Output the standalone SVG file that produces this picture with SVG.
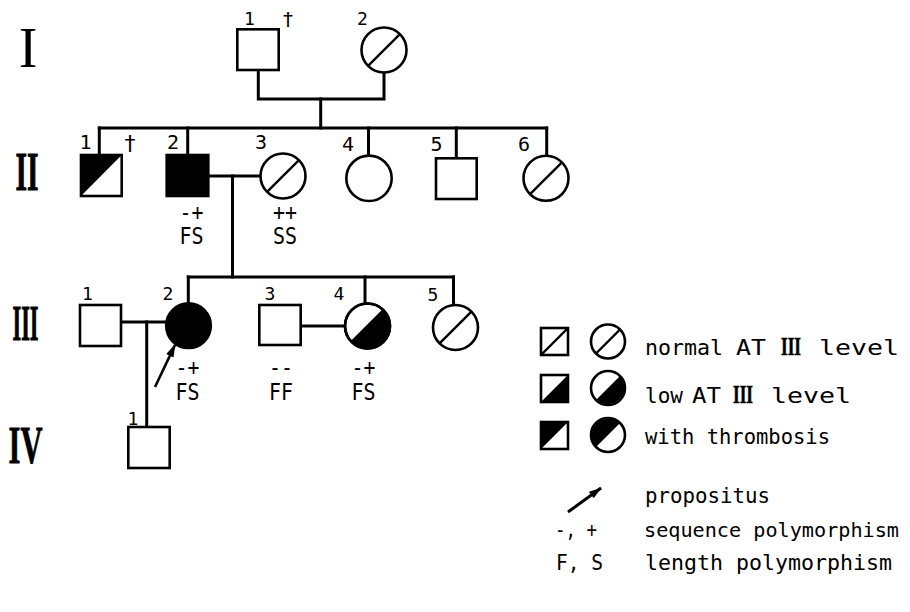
<svg xmlns="http://www.w3.org/2000/svg" width="910" height="612" viewBox="0 0 910 612">
<defs>
<style>
.ln{stroke:#000;stroke-width:3;fill:none;stroke-linecap:square}
.nd{stroke:#000;stroke-width:2.6;fill:#fff}
.dg{stroke:#000;stroke-width:2.4}
.blk{fill:#000;stroke:none}
.lab{font-family:"DejaVu Sans Mono","Liberation Mono",monospace;font-size:18px;text-anchor:middle;fill:#000}
.lab2{font-family:"DejaVu Sans Mono","Liberation Mono",monospace;font-size:20px;text-anchor:middle;fill:#000}
.dag{font-family:"DejaVu Sans","Liberation Sans",sans-serif;text-anchor:middle;fill:#000}
.gt{font-family:"DejaVu Sans Mono","Liberation Mono",monospace;font-size:23px;text-anchor:middle;fill:#000}
.lg{font-family:"DejaVu Sans Mono","Liberation Mono",monospace;font-size:22px;fill:#000}
.rn{font-family:"Liberation Serif","Times New Roman",serif;fill:#000;stroke:#000;text-anchor:middle}
</style>
<marker id="ah" markerUnits="userSpaceOnUse" markerWidth="14" markerHeight="10" refX="12" refY="5" orient="auto">
<path d="M0,1 L13,5 L0,9 Z" fill="#000"/>
</marker>
</defs>

<g id="generation-labels">
<text class="rn" x="28" y="67" font-size="56" stroke-width="0">I</text>
<text class="rn" x="27" y="190" font-size="54" font-weight="bold" stroke-width="1" textLength="23" lengthAdjust="spacingAndGlyphs">II</text>
<text class="rn" x="25.5" y="340" font-size="50" font-weight="bold" stroke-width="1" textLength="26" lengthAdjust="spacingAndGlyphs">III</text>
<text class="rn" x="25.5" y="463" font-size="52" font-weight="bold" stroke-width="0.8" textLength="34" lengthAdjust="spacingAndGlyphs">IV</text>
</g>

<g id="connectors">
<polyline class="ln" points="258.3,70 258.3,99 384,99 384,72.5"/>
<line class="ln" x1="320.7" y1="99" x2="320.7" y2="128"/>
<line class="ln" x1="99.3" y1="128" x2="546.7" y2="128"/>
<line class="ln" x1="99.3" y1="128" x2="99.3" y2="155"/>
<line class="ln" x1="187.7" y1="128" x2="187.7" y2="155"/>
<line class="ln" x1="368.5" y1="128" x2="368.5" y2="155.6"/>
<line class="ln" x1="456.3" y1="128" x2="456.3" y2="158.3"/>
<line class="ln" x1="546.7" y1="128" x2="546.7" y2="155.7"/>
<line class="ln" x1="208.3" y1="176" x2="260.5" y2="176"/>
<line class="ln" x1="232.5" y1="176" x2="232.5" y2="277"/>
<line class="ln" x1="188.3" y1="277" x2="453.5" y2="277"/>
<line class="ln" x1="188.3" y1="277" x2="188.3" y2="303.4"/>
<line class="ln" x1="365" y1="277" x2="365" y2="303.6"/>
<line class="ln" x1="453.5" y1="277" x2="453.5" y2="305.1"/>
<line class="ln" x1="121" y1="322" x2="166.2" y2="322"/>
<line class="ln" x1="146.7" y1="322" x2="146.7" y2="427"/>
<line class="ln" x1="300.7" y1="326" x2="345" y2="326"/>
<line x1="155" y1="387" x2="175" y2="345" stroke="#000" stroke-width="2.6" marker-end="url(#ah)"/>
</g>

<g id="I-1">
<rect class="nd" x="237.3" y="29.3" width="41.4" height="40.7"/>
<text class="lab" x="249.5" y="25">1</text>
<text class="dag" x="288" y="26" font-size="20">†</text>
</g>
<g id="I-2">
<circle class="nd" cx="384" cy="50" r="22.5"/>
<line class="dg" x1="368.1" y1="65.9" x2="399.9" y2="34.1"/>
<text class="lab" x="362.5" y="25">2</text>
</g>

<g id="II-1">
<polygon class="blk" points="81,155 121.7,155 81,196"/>
<rect x="81" y="155" width="40.7" height="41" fill="none" stroke="#000" stroke-width="2.6"/>
<text class="lab2" x="85.5" y="149">1</text>
<text class="dag" x="130" y="151" font-size="22">†</text>
</g>
<g id="II-2">
<rect x="166.7" y="155" width="41.6" height="41" fill="#000" stroke="#000" stroke-width="2.6"/>
<text class="lab2" x="173" y="149">2</text>
<text class="gt" x="191.5" y="220" textLength="24" lengthAdjust="spacingAndGlyphs">-+</text>
<text class="gt" x="191.5" y="244" textLength="24" lengthAdjust="spacingAndGlyphs">FS</text>
</g>
<g id="II-3">
<circle class="nd" cx="283" cy="176" r="22.5"/>
<line class="dg" x1="267.1" y1="191.9" x2="298.9" y2="160.1"/>
<text class="lab2" x="261" y="149">3</text>
<text class="gt" x="285" y="220" textLength="24" lengthAdjust="spacingAndGlyphs">++</text>
<text class="gt" x="285" y="244" textLength="24" lengthAdjust="spacingAndGlyphs">SS</text>
</g>
<g id="II-4">
<circle class="nd" cx="369" cy="178.3" r="22.7"/>
<text class="lab2" x="348" y="151">4</text>
</g>
<g id="II-5">
<rect class="nd" x="436" y="158.3" width="40.7" height="40.7"/>
<text class="lab2" x="436.5" y="151">5</text>
</g>
<g id="II-6">
<circle class="nd" cx="546" cy="178.3" r="22.5"/>
<line class="dg" x1="530.1" y1="194.2" x2="561.9" y2="162.4"/>
<text class="lab2" x="524" y="151">6</text>
</g>

<g id="III-1">
<rect class="nd" x="80" y="305" width="41" height="41"/>
<text class="lab" x="87.5" y="300">1</text>
</g>
<g id="III-2">
<circle cx="188.5" cy="325.7" r="22.3" fill="#000" stroke="#000" stroke-width="2.6"/>
<text class="lab" x="168" y="300">2</text>
<text class="gt" x="187.5" y="375" textLength="24" lengthAdjust="spacingAndGlyphs">-+</text>
<text class="gt" x="187.5" y="400" textLength="24" lengthAdjust="spacingAndGlyphs">FS</text>
</g>
<g id="III-3">
<rect class="nd" x="259.3" y="305" width="41.4" height="40"/>
<text class="lab" x="270" y="300">3</text>
<text class="gt" x="281" y="375" textLength="24" lengthAdjust="spacingAndGlyphs">--</text>
<text class="gt" x="281" y="400" textLength="24" lengthAdjust="spacingAndGlyphs">FF</text>
</g>
<g id="III-4">
<circle class="nd" cx="367.5" cy="326" r="22.5"/>
<path class="blk" d="M351.6,341.9 A22.5,22.5 0 0 0 383.4,310.1 Z"/>
<circle cx="367.5" cy="326" r="22.5" fill="none" stroke="#000" stroke-width="2.6"/>
<line class="dg" x1="351.6" y1="341.9" x2="383.4" y2="310.1"/>
<text class="lab" x="339" y="300">4</text>
<text class="gt" x="363.5" y="375" textLength="24" lengthAdjust="spacingAndGlyphs">-+</text>
<text class="gt" x="363.5" y="400" textLength="24" lengthAdjust="spacingAndGlyphs">FS</text>
</g>
<g id="III-5">
<circle class="nd" cx="455.5" cy="327.5" r="22.5"/>
<line class="dg" x1="439.6" y1="343.4" x2="471.4" y2="311.6"/>
<text class="lab" x="433" y="301">5</text>
</g>

<g id="IV-1">
<rect class="nd" x="128.3" y="427" width="41.4" height="41"/>
<text class="lab" x="133" y="425">1</text>
</g>

<g id="legend">
<rect class="nd" x="541" y="328" width="27" height="27"/>
<line class="dg" x1="541" y1="355" x2="568" y2="328"/>
<circle class="nd" cx="608" cy="341.5" r="17"/>
<line class="dg" x1="596" y1="353.5" x2="620" y2="329.5"/>
<text class="lg" x="645" y="355" textLength="78" lengthAdjust="spacingAndGlyphs">normal</text>
<text class="lg" x="736" y="355" textLength="30" lengthAdjust="spacingAndGlyphs">AT</text>
<text class="rn" x="791" y="355" font-size="26" font-weight="bold" stroke-width="0.6" textLength="20" lengthAdjust="spacingAndGlyphs">III</text>
<text class="lg" x="819" y="355" textLength="80" lengthAdjust="spacingAndGlyphs">level</text>

<polygon class="blk" points="568,375 568,402 541,402"/>
<rect x="541" y="375" width="27" height="27" fill="none" stroke="#000" stroke-width="2.6"/>
<path class="blk" d="M596,400 A17,17 0 0 0 620,376 Z"/>
<circle cx="608" cy="388" r="17" fill="none" stroke="#000" stroke-width="2.6"/>
<text class="lg" x="645" y="403" textLength="38" lengthAdjust="spacingAndGlyphs">low</text>
<text class="lg" x="692" y="403" textLength="29" lengthAdjust="spacingAndGlyphs">AT</text>
<text class="rn" x="743" y="403" font-size="26" font-weight="bold" stroke-width="0.6" textLength="20" lengthAdjust="spacingAndGlyphs">III</text>
<text class="lg" x="771" y="403" textLength="80" lengthAdjust="spacingAndGlyphs">level</text>

<polygon class="blk" points="541,422 568,422 541,449"/>
<rect x="541" y="422" width="27" height="27" fill="none" stroke="#000" stroke-width="2.6"/>
<path class="blk" d="M596,447 A17,17 0 0 1 620,423 Z"/>
<circle cx="608" cy="435" r="17" fill="none" stroke="#000" stroke-width="2.6"/>
<text class="lg" x="645" y="444" textLength="185" lengthAdjust="spacingAndGlyphs">with thrombosis</text>

<line x1="568" y1="512" x2="601" y2="488" stroke="#000" stroke-width="3" marker-end="url(#ah)"/>
<text class="lg" x="645" y="503" textLength="125" lengthAdjust="spacingAndGlyphs">propositus</text>
<text class="lg" x="555" y="537" textLength="42" lengthAdjust="spacingAndGlyphs">-, +</text>
<text class="lg" x="644" y="537" style="font-size:20px" textLength="255" lengthAdjust="spacingAndGlyphs">sequence polymorphism</text>
<text class="lg" x="556" y="570" textLength="47" lengthAdjust="spacingAndGlyphs">F, S</text>
<text class="lg" x="645" y="570" textLength="247" lengthAdjust="spacingAndGlyphs">length polymorphism</text>
</g>
</svg>
